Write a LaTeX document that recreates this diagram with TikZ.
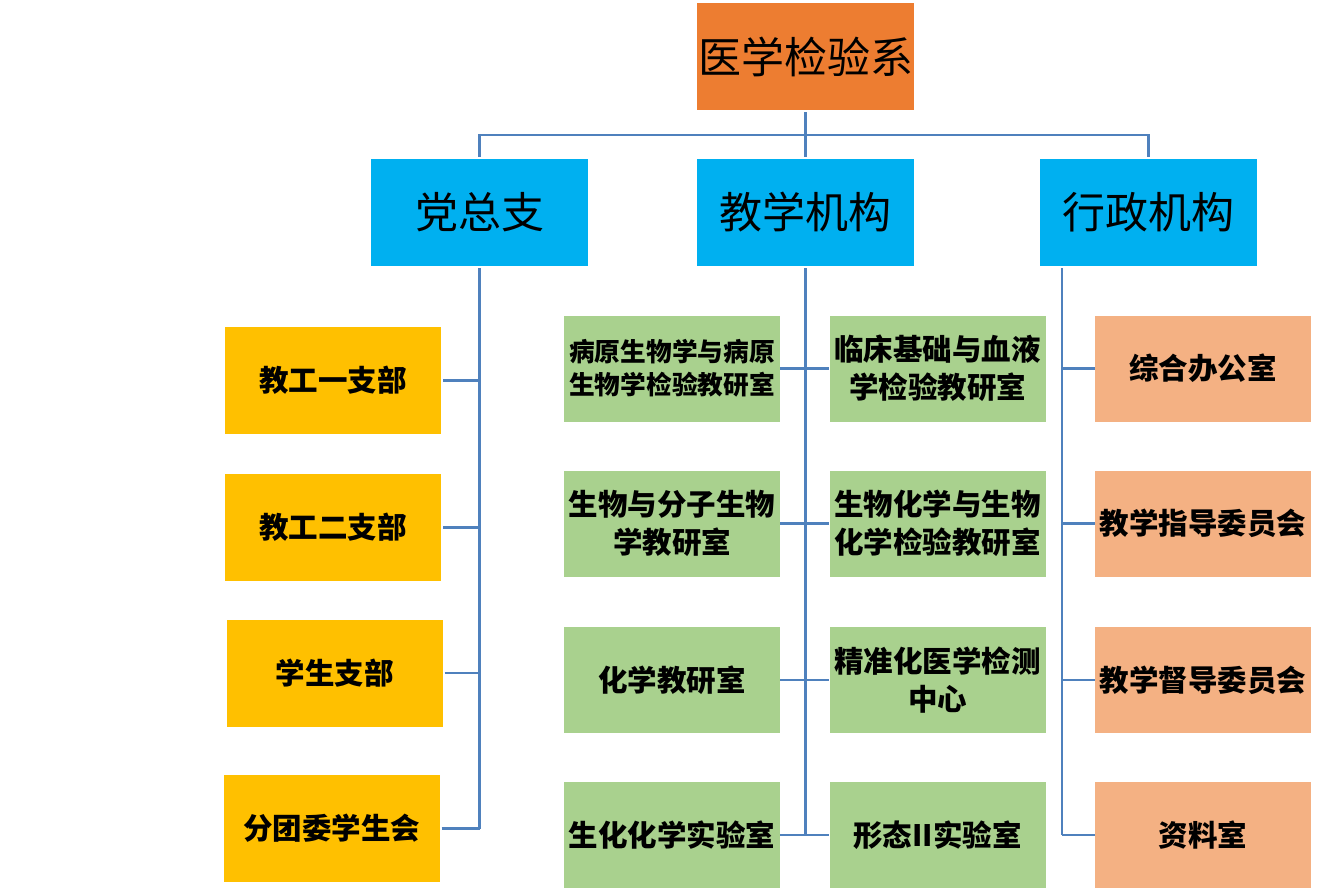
\documentclass[tikz,border=0pt]{standalone}
\usepackage{fontspec}
\newfontfamily\cjk{Noto Sans CJK SC}
\definecolor{topc}{HTML}{ED7D31}
\definecolor{midc}{HTML}{00B0F0}
\definecolor{leftc}{HTML}{FFC000}
\definecolor{greenc}{HTML}{A9D18E}
\definecolor{salc}{HTML}{F4B183}
\definecolor{linec}{HTML}{4F81BD}
\tikzset{
  box/.style={rectangle, inner sep=0pt, align=center, text=black},
  big/.style={box, minimum width=217pt, minimum height=107pt, font=\cjk\fontsize{43}{50}\selectfont},
  small/.style={box, minimum width=216pt, minimum height=106pt, font=\cjk\bfseries\fontsize{29.5}{38}\selectfont},
  conn/.style={draw=linec, line width=2.2pt}
}
\begin{document}
\begin{tikzpicture}[x=1pt,y=-1pt]
\useasboundingbox (0,0) rectangle (1335,892);
% top
\node[big, fill=topc] (top) at (805.5,56.5) {医学检验系};
\node[big, fill=midc] (b1) at (479.5,212.5) {党总支};
\node[big, fill=midc] (b2) at (805.5,212.5) {教学机构};
\node[big, fill=midc] (b3) at (1148.5,212.5) {行政机构};
% left
\node[small, fill=leftc, minimum height=107pt] (l1) at (333,380.5) {教工一支部};
\node[small, fill=leftc, minimum height=107pt] (l2) at (333,527.5) {教工二支部};
\node[small, fill=leftc, minimum height=107pt] (l3) at (334.5,673) {学生支部};
\node[small, fill=leftc, minimum height=107pt] (l4) at (331.5,828.5) {分团委学生会};
% middle
\node[small, fill=greenc, font=\cjk\bfseries\fontsize{25.7}{33}\selectfont] (g1a) at (672,368.5) {病原生物学与病原\\生物学检验教研室};
\node[small, fill=greenc] (g1b) at (937.5,368.5) {临床基础与血液\\学检验教研室};
\node[small, fill=greenc] (g2a) at (672,523.5) {生物与分子生物\\学教研室};
\node[small, fill=greenc] (g2b) at (937.5,523.5) {生物化学与生物\\化学检验教研室};
\node[small, fill=greenc] (g3a) at (672,680) {化学教研室};
\node[small, fill=greenc] (g3b) at (937.5,680) {精准化医学检测\\中心};
\node[small, fill=greenc] (g4a) at (672,835) {生化化学实验室};
\node[small, fill=greenc] (g4b) at (937.5,835) {形态II实验室};
% right
\node[small, fill=salc] (s1) at (1203,368.5) {综合办公室};
\node[small, fill=salc] (s2) at (1203,523.5) {教学指导委员会};
\node[small, fill=salc] (s3) at (1203,680) {教学督导委员会};
\node[small, fill=salc] (s4) at (1203,835) {资料室};
% connectors top
\coordinate (hub) at (805.5,135);
\draw[conn] ([yshift=-2pt]top.south) -- (hub);
\draw[conn] (hub) -| ([yshift=2pt]b1.north);
\draw[conn] (hub) -- ([yshift=2pt]b2.north);
\draw[conn] (hub) -| ([yshift=2pt]b3.north);
% left trunk
\coordinate (lt) at ([yshift=-2pt]b1.south);
\coordinate (lend) at (lt |- l4.east);
\draw[conn] (lt) -- (lend);
\foreach \n in {l1,l2,l3,l4} {\draw[conn] ([xshift=2pt]\n.east) -- (\n.east -| lt);}
% middle trunk
\coordinate (mt) at ([yshift=-2pt]b2.south);
\draw[conn] (mt) -- (mt |- g4a.east);
\foreach \a/\b in {g1a/g1b,g2a/g2b,g3a/g3b,g4a/g4b} {\draw[conn] (\a.east) -- (\b.west);}
% right trunk
\coordinate (rt) at ([xshift=22pt,yshift=-2pt]b3.south west);
\draw[conn] (rt) -- (rt |- s4.west);
\foreach \n in {s1,s2,s3,s4} {\draw[conn] (\n.west -| rt) -- (\n.west);}
\end{tikzpicture}
\end{document}
